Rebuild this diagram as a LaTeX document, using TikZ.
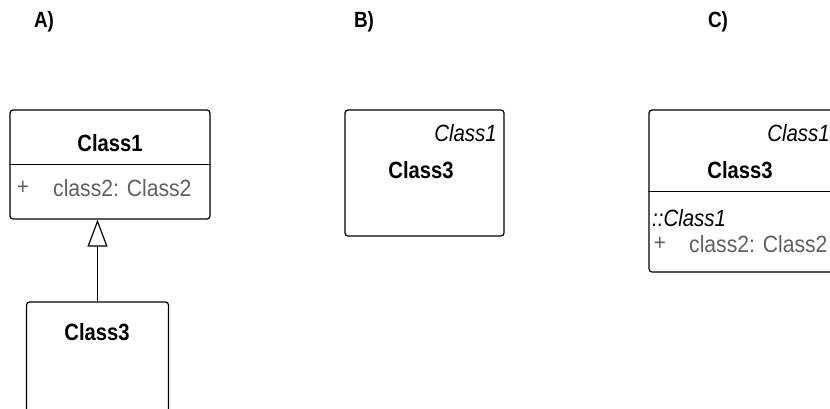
\documentclass[tikz,border=0pt]{standalone}
\usepackage{fontspec}
\setmainfont{Liberation Sans}[FakeStretch=0.9,BoldFeatures={FakeStretch=0.86},ItalicFeatures={FakeStretch=0.87}]
\usetikzlibrary{arrows.meta}
\definecolor{attrgray}{RGB}{96,96,96}
\begin{document}
\begin{tikzpicture}[x=1pt,y=-1pt,
  box/.style={draw=black,line width=1.2pt,rounded corners=3pt,rectangle,inner sep=0pt,minimum width=#1},
  lbl/.style={font=\fontsize{22}{22}\selectfont\bfseries,inner sep=0pt},
  cname/.style={font=\fontsize{23.5}{23.5}\selectfont\bfseries,inner sep=0pt},
  iname/.style={font=\fontsize{23.5}{23.5}\selectfont\itshape,inner sep=0pt,anchor=east},
  attr/.style={font=\fontsize{23.5}{23.5}\selectfont,text=attrgray,inner sep=0pt,anchor=west},
  plus/.style={font=\fontsize{23}{23}\selectfont,text=attrgray,inner sep=0pt},
  divider/.style={line width=0.9pt,draw=black},
  gen/.style={line width=1.2pt,-{Triangle[open,length=27pt,width=20pt,line width=1.2pt]}}
]
\useasboundingbox (0,0) rectangle (830,408);
% labels
\node[lbl] (la) at (44,22) {A)};
\node[lbl] (lb) at (364,22) {B)};
\node[lbl] (lc) at (718,22) {C)};
% A
\node[box=200pt,minimum height=109pt] (a1) at (110,164.5) {};
\draw[divider] (a1.west |- 0,164) -- (a1.east |- 0,164);
\node[cname] (a1n) at (110,143) {Class1};
\node[plus] (a1p) at (23,188) {+};
\node[attr] (a1a) at (53,188) {class2: Class2};
\node[box=142pt,minimum height=120pt] (a3) at (97.5,362) {};
\node[cname] (a3n) at (97,332) {Class3};
\draw[gen] (a3.north) -- (a3.north |- a1.south);
% B
\node[box=159pt,minimum height=126pt] (b3) at (424.5,173) {};
\node[iname] (b3s) at (497,133) {Class1};
\node[cname] (b3n) at (421,170) {Class3};
% C
\node[box=200pt,minimum height=162pt] (c3) at (749,191) {};
\draw[divider] (c3.west |- 0,191) -- (c3.east |- 0,191);
\node[iname] (c3s) at (830,133) {Class1};
\node[cname] (c3n) at (740,170) {Class3};
\node[attr,font=\fontsize{23.5}{23.5}\selectfont\itshape,text=black] (c3i) at (652,218) {::Class1};
\node[plus] (c3p) at (660,244) {+};
\node[attr] (c3a) at (689,244) {class2: Class2};
\end{tikzpicture}
\end{document}
